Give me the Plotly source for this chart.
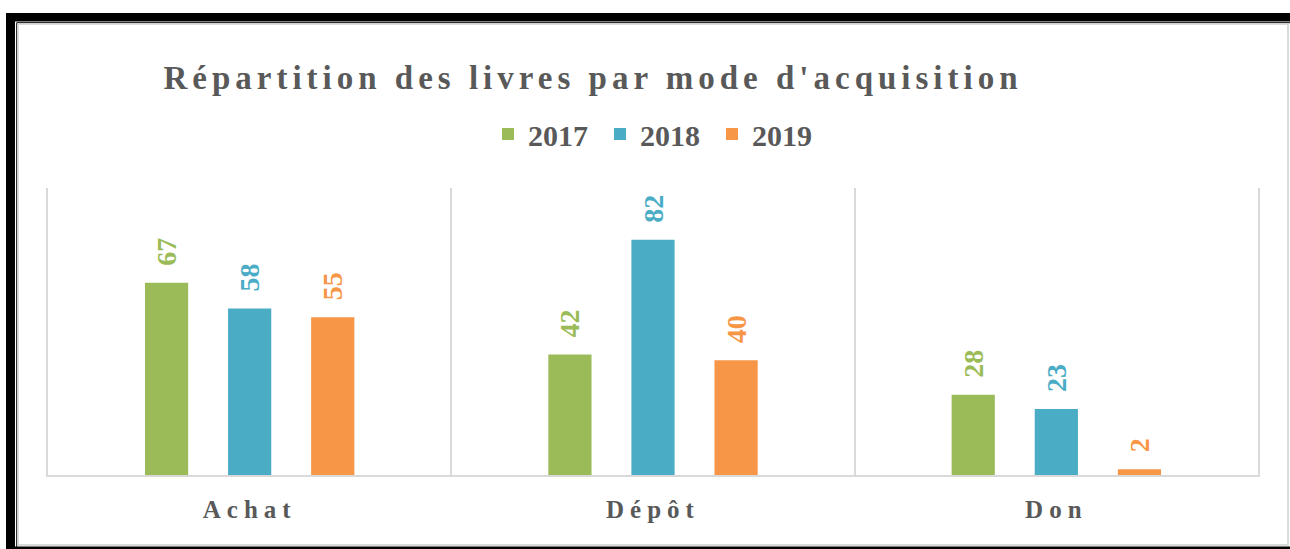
import plotly.graph_objects as go

# ---- data ----
categories = ["Achat", "Dépôt", "Don"]
years = ["2017", "2018", "2019"]
values_2017 = [67, 42, 28]
values_2018 = [58, 82, 23]
values_2019 = [55, 40, 2]
colors = ["#9BBB59", "#4BACC6", "#F79646"]
title_text = "Répartition des livres par mode d'acquisition"

W, H = 1290, 549
ML, MR, MT, MB = 48, 32, 188, 74
PW, PH = W - ML - MR, H - MT - MB

def px(x):
    return (x - ML) / PW

def py(y):
    return (H - MB - y) / PH

FONT = "Liberation Serif, Times New Roman, serif"
GREY = "#595959"

fig = go.Figure()
series = [values_2017, values_2018, values_2019]
for name, vals, col in zip(years, series, colors):
    fig.add_trace(go.Bar(
        x=categories, y=vals, name=name,
        marker=dict(color=col, line=dict(width=0)),
        text=[f"\u00a0\u00a0{v}" for v in vals],
        textposition="outside",
        textangle=-90,
        constraintext="none",
        cliponaxis=False,
        textfont=dict(family=FONT, size=28, color=col, weight="bold"),
        hoverinfo="skip",
    ))

shapes = []
def rect(x0, y0, x1, y1, fill=None, line=None, lw=0):
    shapes.append(dict(type="rect", xref="paper", yref="paper",
                       x0=px(x0), x1=px(x1), y0=py(y0), y1=py(y1),
                       fillcolor=fill if fill else "rgba(0,0,0,0)",
                       line=dict(color=line if line else "rgba(0,0,0,0)", width=lw),
                       layer="above"))
def line(x0, y0, x1, y1, color, lw):
    shapes.append(dict(type="line", xref="paper", yref="paper",
                       x0=px(x0), x1=px(x1), y0=py(y0), y1=py(y1),
                       line=dict(color=color, width=lw), layer="above"))

# frame decoration
rect(6, 13, 15, 549, fill="black")
rect(6, 13, 1290, 21.5, fill="black")
line(16.7, 22.7, 16.7, 549, "black", 1)
line(16.7, 22.7, 1290, 22.7, "black", 1)
rect(18, 24, 1288, 545, line="#cfcfcf", lw=1.5)
rect(15, 546.5, 1290, 549, fill="black")

fig.update_layout(
    width=W, height=H,
    margin=dict(l=ML, r=MR, t=MT, b=MB, pad=0),
    paper_bgcolor="white", plot_bgcolor="white",
    barmode="group", bargap=0.382, bargroupgap=0.48,
    title=dict(
        text=f'<span style="letter-spacing:5px">{title_text}</span>',
        xref="container", yref="container",
        x=593 / W, y=1 - 77 / H, xanchor="center", yanchor="middle",
        font=dict(family=FONT, size=33, color=GREY, weight="bold"),
    ),
    legend=dict(
        orientation="h", xref="paper", yref="paper",
        x=px(656), y=py(134), xanchor="center", yanchor="middle",
        font=dict(family=FONT, size=30, color=GREY, weight="bold"),
        itemwidth=30, entrywidth=67, itemclick=False, itemdoubleclick=False,
        bgcolor="rgba(0,0,0,0)",
    ),
    xaxis=dict(
        type="category",
        tickvals=categories,
        ticktext=[f'<span style="letter-spacing:6px">{c}</span>' for c in categories],
        tickfont=dict(family=FONT, size=25, color=GREY, weight="bold"),
        showgrid=True, gridcolor="#d9d9d9", gridwidth=2,
        tickson="boundaries", ticks="",
        showline=True, linecolor="#d9d9d9", linewidth=2,
        ticklabelstandoff=11,
        zeroline=False,
    ),
    yaxis=dict(
        range=[0, 100], showgrid=False, showticklabels=False, ticks="",
        showline=True, mirror=True, linecolor="#d9d9d9", linewidth=2,
        zeroline=False,
    ),
    shapes=shapes,
    showlegend=True,
)

fig.write_html(
    "out.html",
    config={"displayModeBar": False},
    post_script="document.body.style.margin='0';document.body.style.overflow='hidden';",
)
